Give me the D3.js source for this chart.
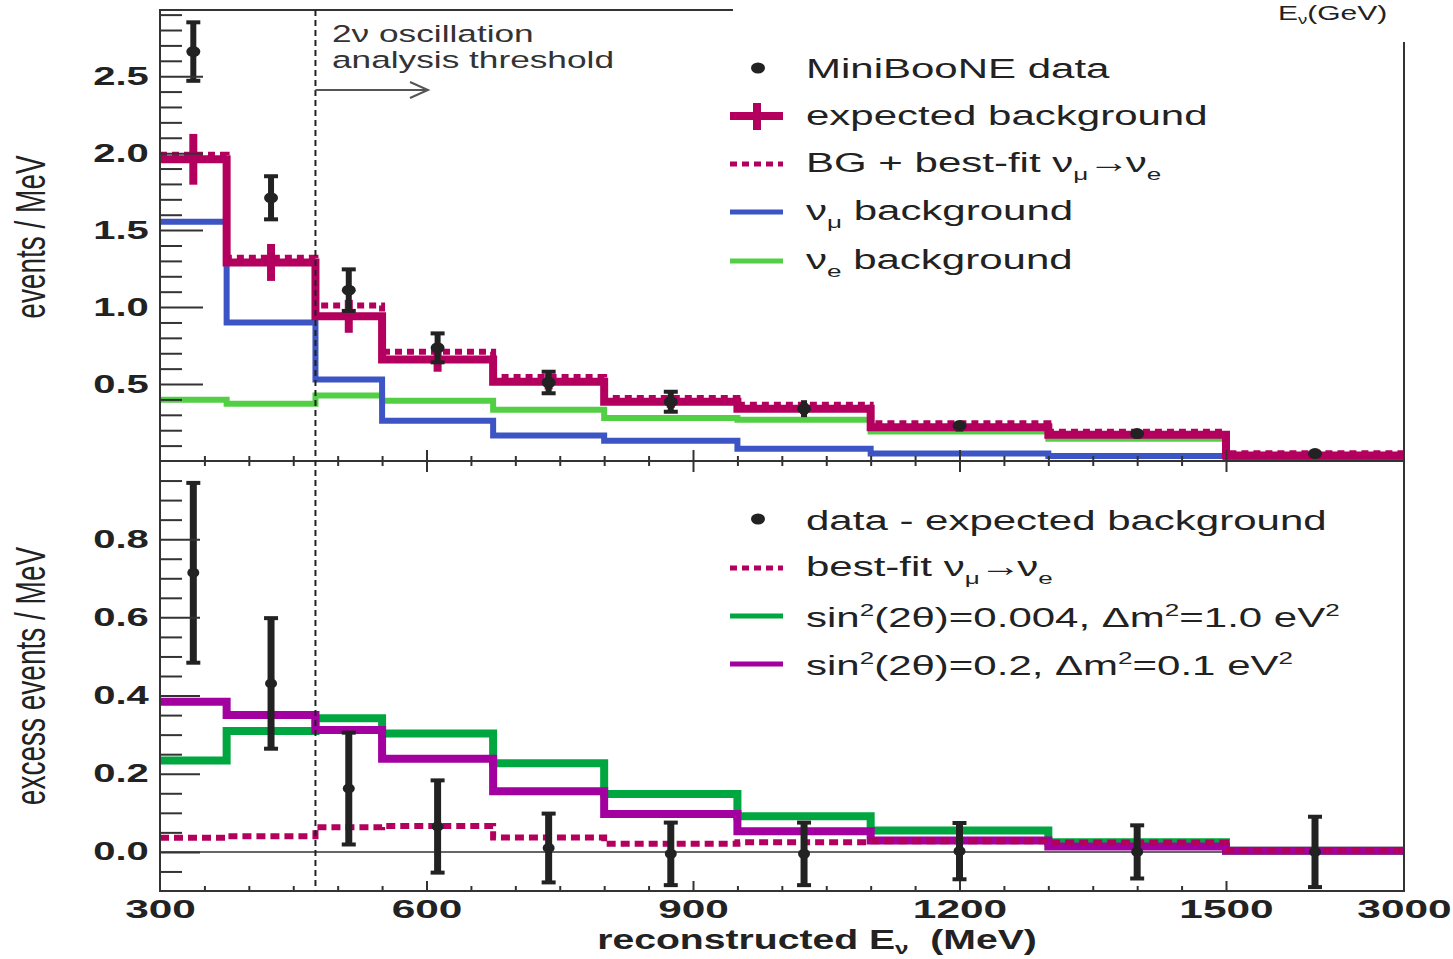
<!DOCTYPE html>
<html>
<head>
<meta charset="utf-8">
<script src="https://cdn.jsdelivr.net/npm/d3@7"></script>
<style>
  body { margin: 0; background: #fff; }
  svg { display: block; }
  text { font-family: "Liberation Sans", Arial, Helvetica, sans-serif; white-space: pre; }
</style>
</head>
<body>
<div id="chart"></div>
<script>
// bin edges / centres in MeV (last bin 1500-3000 is squeezed)
var binEdges = [300, 375, 475, 550, 675, 800, 950, 1100, 1300, 1500, 3000];
var binCenters = [337.5, 425, 512.5, 612.5, 737.5, 875, 1025, 1200, 1400, 2250];
var xTickLabels = [300, 600, 900, 1200, 1500, 3000];
var yTopTicks = [0.5, 1.0, 1.5, 2.0, 2.5];
var yBotTicks = [0.0, 0.2, 0.4, 0.6, 0.8];

// top panel, events / MeV
var miniboone = [2.66, 1.71, 1.11, 0.735, 0.51, 0.385, 0.34, 0.23, 0.178, 0.048];
var minibooneErr = [0.19, 0.14, 0.135, 0.094, 0.07, 0.065, 0.055, 0.03, 0.03, 0.015];
var expectedBg = [1.96, 1.29, 0.94, 0.66, 0.515, 0.385, 0.34, 0.22, 0.17, 0.035];
var expectedBgErr = [0.165, 0.12, 0.107, 0.08, 0.05, 0.04, 0.035, 0.03, 0.025, 0.01];
var bgPlusBestFit = [1.99, 1.32, 1.01, 0.71, 0.545, 0.41, 0.365, 0.245, 0.19, 0.05];
var numuBg = [1.555, 0.9, 0.53, 0.262, 0.165, 0.132, 0.08, 0.048, 0.033, 0.022];
var nueBg = [0.398, 0.372, 0.425, 0.392, 0.333, 0.28, 0.268, 0.191, 0.145, 0.03];

// bottom panel, excess events / MeV
var excess = [0.714, 0.431, 0.162, 0.065, 0.01, -0.005, -0.005, 0.002, 0.0, 0.0];
var excessErr = [0.23, 0.167, 0.143, 0.118, 0.088, 0.08, 0.08, 0.072, 0.068, 0.09];
var bestFit = [0.036, 0.04, 0.063, 0.066, 0.037, 0.021, 0.025, 0.027, 0.024, 0.004];
var fitDm1 = [0.234, 0.309, 0.342, 0.303, 0.227, 0.148, 0.091, 0.055, 0.025, 0.003];
var fitDm01 = [0.384, 0.35, 0.312, 0.238, 0.155, 0.097, 0.053, 0.029, 0.014, 0.003];

var magenta = "#b3005e", blue = "#3d55c4", lightGreen = "#52cf45",
    green = "#00a63f", purple = "#a2009f", ink = "#222";

var width = 1453, height = 959;
var svg = d3.select("#chart").append("svg")
    .attr("width", width)
    .attr("height", height);

// piecewise x scale: 300-1500 linear, 1500-3000 compressed
var x = d3.scaleLinear().domain([300, 1500, 3000]).range([160, 1226, 1404]);
var yTop = d3.scaleLinear().domain([0, 2.93]).range([461, 10]);
var yBot = d3.scaleLinear().domain([-0.1, 1.0]).range([891, 461]);

// text is drawn stretched, like the original figure
function addText(parent, px, py, parts, size, opts) {
  opts = opts || {};
  var t = parent.append("text")
    .attr("transform", "translate(" + px + "," + py + ") scale(" + (opts.sx || 1.5) + ",1)" + (opts.rotate ? " rotate(" + opts.rotate + ")" : ""))
    .attr("font-size", size)
    .attr("font-weight", opts.weight || "normal")
    .attr("text-anchor", opts.anchor || "start")
    .attr("fill", opts.fill || ink);
  var shift = 0;
  parts.forEach(function(p) {
    if (typeof p === "string") p = { t: p };
    var target = p.sub ? size * (opts.subShift || 0.28) : p.sup ? -size * 0.4 : 0;
    var ts = t.append("tspan").text(p.t).attr("dy", target - shift);
    if (p.sub || p.sup) ts.attr("font-size", size * 0.62);
    if (p.tight) ts.attr("letter-spacing", -3);
    shift = target;
  });
  return t;
}

function stepPoints(vals) {
  var pts = vals.map(function(v, i) { return [binEdges[i], v]; });
  pts.push([binEdges[binEdges.length - 1], vals[vals.length - 1]]);
  return pts;
}

function drawStep(yScale, vals, color, w, dash) {
  var line = d3.line()
    .x(function(d) { return x(d[0]); })
    .y(function(d) { return yScale(d[1]); })
    .curve(d3.curveStepAfter);
  svg.append("path")
    .attr("d", line(stepPoints(vals)))
    .attr("fill", "none")
    .attr("stroke", color)
    .attr("stroke-width", w)
    .attr("stroke-dasharray", dash || null);
}

function drawPoints(yScale, vals, errs, barW, rx, ry) {
  var g = svg.append("g").attr("fill", ink).attr("stroke", ink);
  vals.forEach(function(v, i) {
    var cx = x(binCenters[i]);
    var y1 = yScale(v - errs[i]), y2 = yScale(v + errs[i]);
    g.append("line")
      .attr("x1", cx).attr("x2", cx)
      .attr("y1", y1).attr("y2", y2)
      .attr("stroke-width", barW);
    // caps only where the bar is longer than the dot
    if (Math.abs(y1 - y2) > 20) {
      [y1, y2].forEach(function(e) {
        g.append("line")
          .attr("x1", cx - 7).attr("x2", cx + 7)
          .attr("y1", e).attr("y2", e)
          .attr("stroke-width", 4);
      });
    }
    g.append("ellipse")
      .attr("cx", cx).attr("cy", yScale(v))
      .attr("rx", rx).attr("ry", ry)
      .attr("stroke", "none");
  });
}

//----- top panel curves
drawStep(yTop, nueBg, lightGreen, 6);
drawStep(yTop, numuBg, blue, 6);
drawStep(yTop, expectedBg, magenta, 8);
drawStep(yTop, bgPlusBestFit, magenta, 6, "7,5");

expectedBg.forEach(function(v, i) {
  var cx = x(binCenters[i]);
  svg.append("line")
    .attr("x1", cx).attr("x2", cx)
    .attr("y1", yTop(v - expectedBgErr[i])).attr("y2", yTop(v + expectedBgErr[i]))
    .attr("stroke", magenta).attr("stroke-width", 8);
});
drawPoints(yTop, miniboone, minibooneErr, 6, 7, 5.5);

//----- bottom panel curves
svg.append("line")
  .attr("x1", x(300)).attr("x2", x(3000))
  .attr("y1", yBot(0)).attr("y2", yBot(0))
  .attr("stroke", "#333").attr("stroke-width", 1.5);
drawStep(yBot, fitDm1, green, 8);
drawStep(yBot, fitDm01, purple, 8);
drawStep(yBot, bestFit, magenta, 6, "9,5");
drawPoints(yBot, excess, excessErr, 7, 6, 5);

//----- axes
var axisColor = "#333";
function styleAxis(g) {
  g.select(".domain").remove();
  g.selectAll(".tick line").attr("stroke", axisColor).attr("stroke-width", 2);
}

var minorTop = d3.range(1, 30).filter(function(i) { return i % 5 !== 0; }).map(function(i) { return i / 10; });
var minorBot = d3.range(-1, 20).filter(function(i) { return i % 4 !== 0; }).map(function(i) { return i / 20; });

svg.append("g").attr("transform", "translate(160,0)")
  .call(d3.axisLeft(yTop).tickValues(minorTop).tickSize(-22).tickFormat(""))
  .call(styleAxis);
svg.append("g").attr("transform", "translate(160,0)")
  .call(d3.axisLeft(yTop).tickValues(yTopTicks).tickSize(-43).tickPadding(7).tickFormat(d3.format(".1f")))
  .call(styleAxis);
svg.append("g").attr("transform", "translate(160,0)")
  .call(d3.axisLeft(yBot).tickValues(minorBot).tickSize(-22).tickFormat(""))
  .call(styleAxis);
svg.append("g").attr("transform", "translate(160,0)")
  .call(d3.axisLeft(yBot).tickValues(yBotTicks).tickSize(-40).tickPadding(7).tickFormat(d3.format(".1f")))
  .call(styleAxis);

var minorX = d3.range(350, 1500, 50).filter(function(v) { return v % 300 !== 0; });
var majorX = [600, 900, 1200, 1500];

// middle axis, ticks both sides
[d3.axisTop, d3.axisBottom].forEach(function(ax) {
  svg.append("g").attr("transform", "translate(0,461)")
    .call(ax(x).tickValues(minorX).tickSize(5).tickFormat(""))
    .call(styleAxis);
  svg.append("g").attr("transform", "translate(0,461)")
    .call(ax(x).tickValues(majorX).tickSize(11).tickFormat(""))
    .call(styleAxis);
});

// bottom axis
svg.append("g").attr("transform", "translate(0,891)")
  .call(d3.axisTop(x).tickValues(minorX).tickSize(5).tickFormat(""))
  .call(styleAxis);
svg.append("g").attr("transform", "translate(0,891)")
  .call(d3.axisTop(x).tickValues(majorX).tickSize(10).tickFormat(""))
  .call(styleAxis);
svg.append("g").attr("transform", "translate(0,891)")
  .call(d3.axisBottom(x).tickValues(xTickLabels).tickSize(0).tickPadding(8).tickFormat(d3.format("d")))
  .call(styleAxis)
  .classed("xlabels", true);

svg.selectAll(".tick text")
  .attr("fill", ink)
  .attr("font-family", "Liberation Sans, Arial, sans-serif")
  .attr("font-weight", "bold")
  .attr("font-size", 25)
  .attr("transform", "scale(1.6,1)");
svg.selectAll(".xlabels .tick text").attr("font-size", 26.5);

// frame
var frame = svg.append("g").attr("stroke", axisColor).attr("stroke-width", 2).attr("fill", "none");
frame.append("line").attr("x1", 160).attr("x2", 160).attr("y1", 10).attr("y2", 891);
frame.append("line").attr("x1", 159).attr("x2", 733).attr("y1", 10).attr("y2", 10);
frame.append("line").attr("x1", 1404).attr("x2", 1404).attr("y1", 42).attr("y2", 891);
frame.append("line").attr("x1", 159).attr("x2", 1405).attr("y1", 891).attr("y2", 891);
frame.append("line").attr("x1", 159).attr("x2", 1405).attr("y1", 461).attr("y2", 461);

// analysis threshold
svg.append("line")
  .attr("x1", x(475)).attr("x2", x(475))
  .attr("y1", 10).attr("y2", 891)
  .attr("stroke", ink).attr("stroke-width", 2).attr("stroke-dasharray", "6,4");
var arrow = svg.append("g").attr("stroke", "#555").attr("stroke-width", 2).attr("fill", "none");
arrow.append("line").attr("x1", x(475)).attr("x2", 428).attr("y1", 90).attr("y2", 90);
arrow.append("path").attr("d", "M410,82 L428,90 L410,98");
addText(svg, 332, 42, ["2ν oscillation"], 23.5, { fill: "#333" });
addText(svg, 332, 68, ["analysis threshold"], 23.5, { fill: "#333" });

// axis titles
addText(svg, 1278, 20, ["E", { t: "ν", sub: true }, "(GeV)"], 20, { subShift: 0.2 });
addText(svg, 45, 237, ["events / MeV"], 28, { rotate: -90, anchor: "middle" });
addText(svg, 45, 676, ["excess events / MeV"], 28, { rotate: -90, anchor: "middle" });
addText(svg, 817, 949, ["reconstructed E", { t: "ν", sub: true }, "  (MeV)"], 27, { anchor: "middle", weight: "bold", sx: 1.45, subShift: 0.2 });

//----- legends
var lx0 = 730, lx1 = 783, tx = 806;
var arrowPart = { t: "→", tight: true };
var leg = svg.append("g");
leg.append("ellipse").attr("cx", 758).attr("cy", 68).attr("rx", 7).attr("ry", 5.5).attr("fill", ink);
addText(leg, tx, 78, ["MiniBooNE data"], 28);
leg.append("line").attr("x1", lx0).attr("x2", lx1).attr("y1", 116).attr("y2", 116).attr("stroke", magenta).attr("stroke-width", 8);
leg.append("line").attr("x1", 757).attr("x2", 757).attr("y1", 103).attr("y2", 130).attr("stroke", magenta).attr("stroke-width", 8);
addText(leg, tx, 125, ["expected background"], 28);
leg.append("line").attr("x1", lx0).attr("x2", lx1).attr("y1", 164).attr("y2", 164).attr("stroke", magenta).attr("stroke-width", 5).attr("stroke-dasharray", "7,5");
addText(leg, tx, 172, ["BG + best-fit ν", { t: "μ", sub: true }, arrowPart, "ν", { t: "e", sub: true }], 28);
leg.append("line").attr("x1", lx0).attr("x2", lx1).attr("y1", 212).attr("y2", 212).attr("stroke", blue).attr("stroke-width", 5);
addText(leg, tx, 220, ["ν", { t: "μ", sub: true }, " background"], 28);
leg.append("line").attr("x1", lx0).attr("x2", lx1).attr("y1", 261).attr("y2", 261).attr("stroke", lightGreen).attr("stroke-width", 5);
addText(leg, tx, 269, ["ν", { t: "e", sub: true }, " background"], 28);

leg.append("ellipse").attr("cx", 758).attr("cy", 519).attr("rx", 7).attr("ry", 5.5).attr("fill", ink);
addText(leg, tx, 530, ["data - expected background"], 28);
leg.append("line").attr("x1", lx0).attr("x2", lx1).attr("y1", 568).attr("y2", 568).attr("stroke", magenta).attr("stroke-width", 5).attr("stroke-dasharray", "7,5");
addText(leg, tx, 576, ["best-fit ν", { t: "μ", sub: true }, arrowPart, "ν", { t: "e", sub: true }], 28);
leg.append("line").attr("x1", lx0).attr("x2", lx1).attr("y1", 616).attr("y2", 616).attr("stroke", green).attr("stroke-width", 5);
addText(leg, tx, 627, ["sin", { t: "2", sup: true }, "(2θ)=0.004, Δm", { t: "2", sup: true }, "=1.0 eV", { t: "2", sup: true }], 28);
leg.append("line").attr("x1", lx0).attr("x2", lx1).attr("y1", 664).attr("y2", 664).attr("stroke", purple).attr("stroke-width", 5);
addText(leg, tx, 675, ["sin", { t: "2", sup: true }, "(2θ)=0.2, Δm", { t: "2", sup: true }, "=0.1 eV", { t: "2", sup: true }], 28);
</script>
</body>
</html>
